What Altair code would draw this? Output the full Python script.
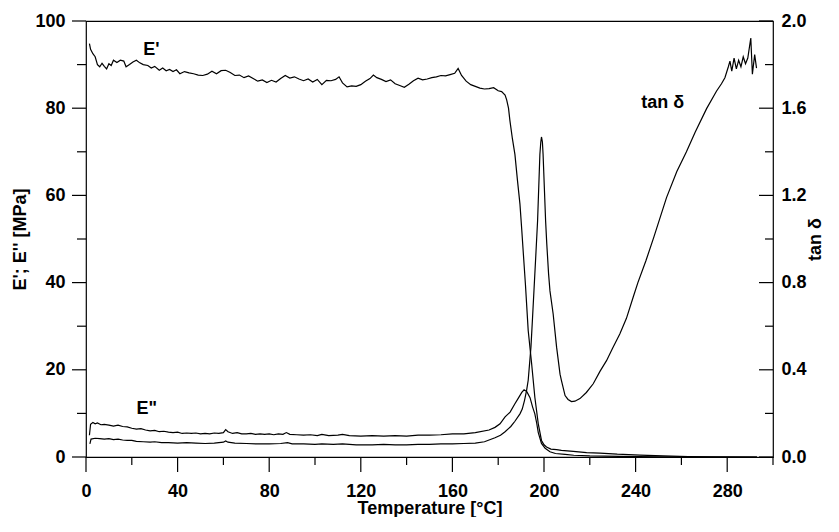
import altair as alt
import pandas as pd

FONT = "Liberation Sans"

# ---- E' (storage modulus) [MPa] ----
T_EP = [1.5, 2.0, 3.0, 4.0, 5.0, 6.0, 7.0, 8.0, 9.0, 10.0, 11.0, 12.0, 13.5, 15.0, 16.5,
        17.5, 19.0, 20.5, 22.0, 23.5, 25.0, 27.0, 28.5, 30.0, 32.0, 33.5, 35.0, 36.5, 38.0,
        39.5, 41.0, 43.0, 45.0, 47.0, 49.0, 51.0, 53.0, 55.0, 57.0, 59.0, 61.0, 63.0, 65.0,
        67.0, 69.0, 71.0, 73.0, 75.0, 77.0, 79.0, 81.0, 83.0, 85.0, 87.0, 89.0, 91.0, 93.0,
        95.0, 97.0, 99.0, 101.0, 103.0, 105.0, 107.0, 109.0, 110.5, 112.0, 114.0, 116.0,
        118.0, 120.0, 122.0, 124.0, 125.5, 127.0, 129.0, 131.0, 133.0, 135.0, 137.0, 139.0,
        141.0, 143.0, 145.0, 147.0, 149.0, 151.0, 153.0, 155.0, 157.0, 159.0, 161.0, 162.5,
        164.0, 166.0, 168.0, 170.0, 172.0, 174.0, 176.0, 178.0, 180.0, 181.5, 183.0, 183.7,
        184.5, 185.1, 186.2, 187.3, 188.4, 189.5, 190.3, 191.0, 191.9, 193.1, 194.6, 196.0,
        197.5, 198.9, 200.0, 201.1, 203.0, 205.5, 207.6, 212.8, 218.6, 224.4, 232.0, 241.9,
        252.0, 263.0, 275.0, 293.0]
EP = [94.8, 93.5, 92.5, 91.8, 90.0, 89.5, 90.3, 89.6, 89.0, 90.2, 89.8, 91.0, 90.5, 91.0, 90.8,
      89.5, 90.0, 90.6, 91.0, 90.4, 90.0, 89.8, 89.2, 89.6, 88.7, 89.2, 88.6, 88.9, 88.4,
      88.8, 87.9, 88.4, 88.1, 87.9, 87.6, 87.5, 87.8, 88.5, 87.9, 88.6, 88.7, 88.2, 87.5,
      87.6, 87.0, 87.4, 86.8, 86.2, 86.5, 85.9, 86.4, 86.0, 86.8, 87.5, 86.9, 87.2, 86.7,
      86.3, 86.7, 86.0, 86.6, 85.4, 86.4, 86.3, 86.6, 87.2, 85.8, 84.9,
      85.1, 85.0, 85.4, 86.2, 86.8, 87.6, 87.0, 86.6, 86.1, 86.5, 85.6, 85.2, 84.8,
      85.5, 86.3, 86.9, 86.5, 86.7, 87.0, 87.2, 87.5, 87.4, 87.7, 88.0, 89.1,
      87.5, 86.2, 85.4, 85.0, 84.6, 84.4, 84.5, 84.7, 84.0, 83.8, 83.0, 81.9,
      80.0, 77.2, 73.0, 69.4, 63.5, 58.0, 52.0, 46.5, 39.5, 29.0, 21.4, 13.7,
      7.6, 3.8, 2.8, 2.3, 1.8, 1.7, 1.5, 1.3, 1.0, 0.9, 0.65, 0.45,
      0.25, 0.1, 0.03, 0.0]

# ---- E'' (loss modulus) [MPa] ----
T_EPP = [1.5, 2.0, 3.0, 4.0, 5.0, 6.5, 8.0, 10.0, 12.0, 14.0, 16.0, 18.0, 20.0, 22.0, 24.0,
         26.0, 28.0, 30.0, 32.0, 34.0, 36.0, 38.0, 40.0, 42.0, 44.0, 46.0, 48.0, 50.0, 52.0,
         54.0, 56.0, 58.0, 60.0, 61.0, 62.0, 64.0, 66.0, 68.0, 70.0, 72.0, 74.0, 76.0, 78.0,
         80.0, 82.0, 84.0, 86.0, 87.5, 89.0, 92.0, 95.0, 98.0, 101.0, 103.0, 106.0, 110.0,
         112.0, 115.0, 120.0, 125.0, 130.0, 135.0, 140.0, 145.0, 150.0, 155.0, 160.0, 165.0,
         170.0, 176.0, 178.6, 180.8, 183.0, 185.2, 187.3, 188.8, 190.3, 191.3, 192.5, 193.9,
         195.0, 196.0, 196.8, 197.5, 198.9, 200.5, 202.6, 205.0, 209.2, 213.0, 220.0, 233.0,
         250.0, 270.0, 293.0]
EPP = [5.0, 7.5, 7.9, 7.6, 7.8, 7.4, 7.5, 7.3, 7.1, 7.3, 7.0, 6.9, 6.6, 6.4, 6.5,
       6.2, 6.0, 6.1, 5.8, 5.9, 5.7, 5.6, 5.7, 5.4, 5.5, 5.4, 5.5, 5.3, 5.4,
       5.3, 5.5, 5.4, 5.6, 6.3, 5.8, 5.4, 5.6, 5.3, 5.3, 5.4, 5.2, 5.3, 5.2,
       5.3, 5.1, 5.3, 5.2, 5.6, 5.2, 5.1, 5.0, 5.1, 4.9, 5.2, 4.9, 5.0,
       5.2, 4.9, 4.8, 4.9, 4.8, 4.9, 4.8, 5.0, 5.0, 5.1, 5.3, 5.3,
       5.6, 6.2, 6.8, 7.6, 9.2, 10.3, 12.2, 13.5, 14.8, 15.4, 15.0, 13.6,
       11.5, 9.9, 7.8, 5.6, 3.1, 2.0, 1.2, 0.8, 0.6, 0.4, 0.25, 0.15,
       0.05, 0.0, 0.0]

# ---- tan delta ----
T_TAN = [1.7, 2.2, 4.0, 6.0, 8.0, 10.0, 12.0, 14.0, 16.0, 18.0, 20.0, 22.0, 25.0, 28.0, 30.0,
         33.0, 36.0, 40.0, 44.0, 48.0, 52.0, 56.0, 60.0, 61.0, 62.0, 65.0, 70.0, 75.0, 80.0,
         85.0, 88.0, 90.0, 95.0, 100.0, 103.0, 108.0, 112.0, 118.0, 125.0, 130.0, 135.0,
         140.0, 145.0, 150.0, 155.0, 160.0, 165.0, 170.0, 174.0, 178.6, 181.0, 183.0, 185.5,
         187.3, 189.5, 190.5, 191.5, 192.4, 193.1, 194.3, 195.0, 195.7, 196.5, 197.2, 198.2,
         198.6, 198.9, 199.3, 199.6, 200.7, 201.2, 202.0, 202.6, 204.0, 205.5, 207.0, 207.6,
         209.2, 210.5, 212.0, 213.5, 215.7, 218.5, 221.5, 224.5, 227.3, 230.0, 233.1, 236.0,
         239.0, 241.0, 244.5, 248.0, 253.5, 258.0, 262.2, 266.0, 271.0, 275.3, 277.5, 279.0,
         280.5, 281.2, 282.0, 283.0, 284.0, 285.0, 286.0, 287.0, 288.0, 289.0, 290.3, 291.0,
         292.0, 292.8]
TAN = [0.060, 0.082, 0.086, 0.084, 0.082, 0.084, 0.080, 0.082, 0.078, 0.076, 0.076, 0.072,
       0.070, 0.068, 0.070, 0.066, 0.066, 0.064, 0.066, 0.064, 0.062, 0.064, 0.068, 0.074,
       0.068, 0.064, 0.062, 0.060, 0.060, 0.062, 0.066, 0.060, 0.060, 0.058, 0.060, 0.058,
       0.060, 0.056, 0.056, 0.058, 0.056, 0.056, 0.058, 0.058, 0.060, 0.060, 0.062, 0.064,
       0.070, 0.088, 0.100, 0.116, 0.140, 0.164, 0.198, 0.220, 0.260, 0.306, 0.352, 0.504,
       0.640, 0.780, 0.940, 1.084, 1.388, 1.445, 1.468, 1.445, 1.388, 1.084, 0.980, 0.840,
       0.762, 0.656, 0.504, 0.380, 0.352, 0.282, 0.264, 0.254, 0.256, 0.268, 0.296, 0.336,
       0.394, 0.442, 0.500, 0.564, 0.636, 0.735, 0.800, 0.900, 1.010, 1.190, 1.310, 1.400,
       1.490, 1.598, 1.678, 1.712, 1.740, 1.790, 1.816, 1.770, 1.830, 1.780, 1.820, 1.790,
       1.836, 1.804, 1.830, 1.922, 1.756, 1.846, 1.784]

# ---- axes: labelled (major) and unlabelled (minor) tick positions ----
X_MAJOR = [0, 40, 80, 120, 160, 200, 240, 280]
X_MINOR = [20, 60, 100, 140, 180, 220, 260, 300]
Y_MAJOR = [0, 20, 40, 60, 80, 100]
Y_MINOR = [10, 30, 50, 70, 90]
TAN_MAJOR = [0.0, 0.4, 0.8, 1.2, 1.6, 2.0]
TAN_MINOR = [0.2, 0.6, 1.0, 1.4, 1.8]

LABEL_TEXT = ["E'", 'E"', "tan δ"]
LABEL_X = [28.6, 26.5, 251.8]
LABEL_Y = [93.3, 11.0, 81.2]

W, H = 687, 436

moduli = pd.concat([
    pd.DataFrame({"T": T_EP, "v": EP, "series": "E'"}),
    pd.DataFrame({"T": T_EPP, "v": EPP, "series": "E''"}),
])
tan_df = pd.DataFrame({"T": T_TAN, "tan": TAN})
labels_df = pd.DataFrame({"T": LABEL_X, "v": LABEL_Y, "text": LABEL_TEXT})

XS = alt.Scale(domain=[0, 300], nice=False)
YS = alt.Scale(domain=[0, 100], nice=False)
TS = alt.Scale(domain=[0, 2], nice=False)

label_axis = dict(
    grid=False, domain=False, ticks=False, tickSize=0,
    labelFont=FONT, labelFontSize=18, labelFontWeight="bold", labelColor="black",
    titleFont=FONT, titleFontSize=18, titleFontWeight="bold", titleColor="black",
    labelOverlap=False, labelFlush=False,
)

# the only layer that defines the left and bottom axes (labels and titles)
lines = alt.Chart(moduli).mark_line(color="black", strokeWidth=1.2).encode(
    x=alt.X("T:Q", scale=XS, axis=alt.Axis(
        orient="bottom", values=X_MAJOR, labelPadding=25, title="Temperature [°C]",
        titleY=56, titleBaseline="alphabetic", **label_axis)),
    y=alt.Y("v:Q", scale=YS, axis=alt.Axis(
        orient="left", values=Y_MAJOR, labelPadding=21, title="E'; E'' [MPa]",
        titleAngle=270, titleX=-66, titleY=218, titleAlign="center", titleBaseline="middle",
        **label_axis)),
    detail="series:N",
)

texts = alt.Chart(labels_df).mark_text(
    font=FONT, fontSize=18, fontWeight="bold", color="black", align="center", baseline="middle"
).encode(
    x=alt.X("T:Q", scale=XS),
    y=alt.Y("v:Q", scale=YS),
    text="text:N",
)


def x_ticks(vals, length):
    return alt.Chart(pd.DataFrame({"T": vals})).mark_rule(color="black", strokeWidth=1.2).encode(
        x=alt.X("T:Q", scale=XS), y=alt.value(H), y2=alt.value(H + length)
    )


def y_ticks(vals, length):
    return alt.Chart(pd.DataFrame({"v": vals})).mark_rule(color="black", strokeWidth=1.2).encode(
        y=alt.Y("v:Q", scale=YS), x=alt.value(-length), x2=alt.value(0)
    )


def tan_ticks(vals, length):
    return alt.Chart(pd.DataFrame({"tan": vals})).mark_rule(color="black", strokeWidth=1.2).encode(
        y=alt.Y("tan:Q", scale=TS), x=alt.value(W - length), x2=alt.value(W)
    )


left = alt.layer(
    lines, texts,
    x_ticks(X_MAJOR, 15), x_ticks(X_MINOR, 8),
    y_ticks(Y_MAJOR, 14), y_ticks(Y_MINOR, 9),
)

tan_line = alt.Chart(tan_df).mark_line(color="black", strokeWidth=1.2).encode(
    x=alt.X("T:Q", scale=XS),
    y=alt.Y("tan:Q", scale=TS, axis=alt.Axis(
        orient="right", values=TAN_MAJOR, format=".1f", labelPadding=8, title="tan δ",
        titleAngle=270, titleX=47, titleY=218, titleAlign="center", titleBaseline="alphabetic",
        **label_axis)),
)

right = alt.layer(tan_line, tan_ticks(TAN_MAJOR, 14), tan_ticks(TAN_MINOR, 8))

chart = alt.layer(left, right).resolve_scale(y="independent").properties(
    width=W, height=H,
    autosize=alt.AutoSizeParams(type="none"),
    padding={"left": 78, "top": 13, "right": 56, "bottom": 60},
    background="white",
).configure_view(stroke="black", strokeWidth=1.2)

chart.save("out.html", embed_options={"renderer": "svg", "actions": False})
